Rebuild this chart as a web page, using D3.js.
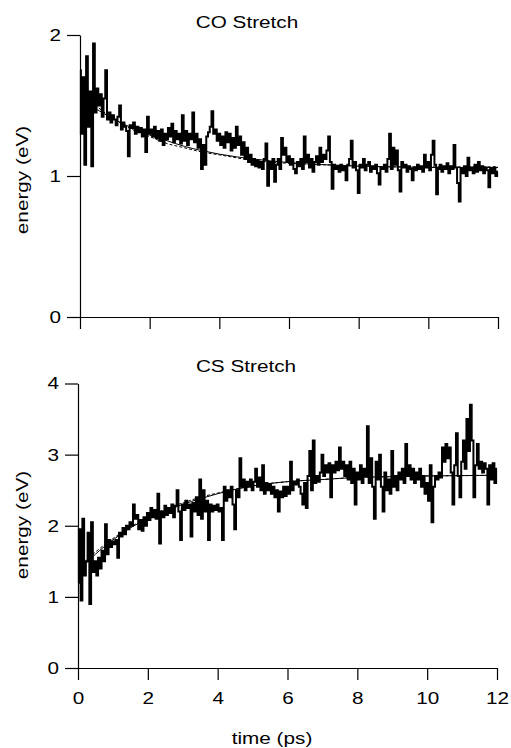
<!DOCTYPE html>
<html>
<head>
<meta charset="utf-8">
<script src="https://cdn.jsdelivr.net/npm/d3@7"></script>
<style>
  body { margin: 0; background: #fff; }
  svg text { font-family: "Liberation Sans", Arial, Helvetica, sans-serif; fill: #000; }
</style>
</head>
<body>
<script>
// sampling step of the trajectories (ps)
const step = 0.05;

// CO stretch energy (eV), one value every 0.05 ps from 0 to 12 ps
const coEnergy = [
  1.75,1.30,1.70,1.08,1.85,1.35,1.60,1.07,1.94,1.45,1.62,1.50,1.58,1.42,1.55,1.75,1.40,1.45,1.38,1.43,
  1.40,1.36,1.42,1.50,1.33,1.38,1.35,1.32,1.14,1.36,1.34,1.38,1.30,1.35,1.31,1.34,1.28,1.33,1.17,1.42,
  1.30,1.33,1.28,1.35,1.27,1.32,1.25,1.33,1.22,1.30,1.26,1.34,1.28,1.37,1.24,1.32,1.26,1.30,1.23,1.43,
  1.25,1.32,1.22,1.30,1.26,1.45,1.24,1.30,1.20,1.26,1.05,1.22,1.08,1.28,1.31,1.35,1.46,1.30,1.33,1.25,
  1.30,1.22,1.28,1.20,1.31,1.24,1.30,1.18,1.27,1.20,1.35,1.22,1.28,1.15,1.24,1.12,1.20,1.10,1.15,1.08,
  1.12,1.07,1.11,1.06,1.10,1.05,1.12,1.23,0.93,1.10,1.05,1.12,0.96,1.08,1.12,1.05,1.27,1.15,1.20,1.10,
  1.14,1.08,1.12,1.05,1.02,1.10,1.07,1.12,1.05,1.28,1.10,1.15,1.06,1.12,1.03,1.10,1.14,1.08,1.20,1.10,
  1.15,1.12,1.18,1.28,1.10,0.91,1.08,1.05,1.07,1.03,1.08,1.04,1.07,0.97,1.08,1.12,1.25,1.06,1.10,1.04,
  0.88,1.08,1.06,1.12,1.04,1.08,1.10,1.03,1.07,1.05,1.08,1.02,0.94,1.06,1.05,1.08,1.03,1.12,1.30,1.05,
  1.20,1.08,1.18,1.04,0.89,1.10,1.06,1.08,1.03,1.07,1.05,0.97,1.06,1.04,1.08,1.05,1.07,1.03,1.15,1.06,
  1.10,1.04,1.15,1.25,1.08,0.87,1.05,1.08,1.03,1.07,1.05,1.09,1.02,1.07,1.05,1.22,1.06,0.95,0.82,1.05,
  1.02,1.07,1.00,1.13,1.04,1.06,1.02,1.08,1.03,1.10,1.04,1.07,1.02,1.06,1.04,0.92,1.05,1.02,1.06,1.00,
  1.03
];

// CS stretch energy (eV), same sampling
const csEnergy = [
  1.20,1.95,0.95,2.10,1.30,1.50,1.90,0.90,2.05,1.35,1.50,1.30,1.55,1.40,1.65,1.50,2.02,1.60,1.80,1.70,
  1.78,1.74,1.80,1.55,1.90,1.85,1.97,1.88,2.00,1.95,2.05,2.00,2.30,2.10,2.15,1.95,2.08,1.93,2.12,2.00,
  2.18,2.08,2.25,2.12,2.22,2.10,2.45,1.75,2.20,2.12,2.28,2.15,2.25,2.18,2.30,2.12,2.28,2.50,2.20,1.80,
  2.30,2.22,2.35,2.25,2.30,1.85,2.32,2.20,2.40,2.15,2.65,2.10,2.50,2.20,2.35,1.80,2.30,2.20,2.28,2.22,
  2.30,2.20,2.25,1.80,2.55,2.35,2.50,2.40,2.55,2.30,1.95,2.50,2.40,2.95,2.55,2.65,2.50,2.62,2.55,2.65,
  2.50,2.62,2.80,2.55,2.68,2.50,2.85,2.45,2.60,2.50,2.58,2.45,2.55,2.40,2.50,2.20,2.48,2.40,2.55,2.42,
  2.55,2.45,2.90,2.50,2.62,2.58,2.65,2.55,2.45,2.30,2.60,2.25,2.70,3.05,2.50,3.20,2.60,2.70,2.62,2.75,
  3.00,2.70,2.85,2.75,2.88,2.40,2.85,2.75,2.90,2.78,3.10,2.80,2.90,2.70,2.85,2.65,2.90,2.60,2.80,2.30,
  2.75,2.65,2.85,2.60,2.80,2.70,3.40,2.60,2.95,2.55,2.10,2.90,2.65,3.00,2.55,2.20,2.75,2.50,2.65,2.45,
  3.05,2.55,2.70,2.50,2.75,2.65,2.80,2.60,3.15,2.70,2.85,2.65,2.80,2.60,2.75,2.65,2.80,2.55,2.70,2.45,
  2.60,2.35,2.85,2.05,2.55,2.70,2.65,2.75,2.68,3.10,2.90,3.15,2.95,3.10,2.75,2.30,2.85,3.30,2.70,2.40,
  2.90,3.20,2.80,3.50,3.05,3.70,3.20,2.40,2.85,3.15,2.80,2.90,2.75,2.88,2.80,2.30,2.85,2.65,2.88,2.60,
  2.80
];

// fitted curves
const fitTimes = [0, 0.5, 1, 1.5, 2, 2.5, 3, 3.5, 4, 5, 6, 7, 8, 9, 10, 11, 12];
const coFitSolid  = [1.55, 1.47, 1.40, 1.34, 1.29, 1.25, 1.21, 1.18, 1.155, 1.12, 1.095, 1.08, 1.07, 1.065, 1.06, 1.06, 1.06];
const coFitDashed = [1.60, 1.49, 1.40, 1.33, 1.28, 1.23, 1.20, 1.17, 1.15, 1.11, 1.09, 1.08, 1.07, 1.065, 1.065, 1.065, 1.065];
const csFitSolid  = [1.35, 1.60, 1.80, 1.97, 2.10, 2.20, 2.30, 2.38, 2.45, 2.56, 2.62, 2.65, 2.68, 2.69, 2.70, 2.705, 2.71];
const csFitDashed = [1.40, 1.63, 1.82, 1.98, 2.12, 2.23, 2.32, 2.40, 2.46, 2.56, 2.62, 2.65, 2.68, 2.69, 2.70, 2.705, 2.71];

const xTicks = [0, 2, 4, 6, 8, 10, 12];
const coYTicks = [0, 1, 2];
const csYTicks = [0, 1, 2, 3, 4];

const width = 511, height = 748;
const stretch = 1.22; // glyphs in the figure are wider than the installed fonts

const svg = d3.select("body").append("svg")
    .attr("width", width)
    .attr("height", height);

function drawPanel(opt) {
    const X = d3.scaleLinear().domain([0, 12]).range([opt.left, opt.right]);
    const Y = d3.scaleLinear().domain(opt.yDomain).range([opt.bottom, opt.top]);
    const g = svg.append("g");

    // fits
    const fitLine = d3.line().curve(d3.curveMonotoneX).x(d => X(d.t)).y(d => Y(d.e));
    g.append("path")
        .datum(fitTimes.map((t, i) => ({ t: t, e: opt.fitDashed[i] })))
        .attr("fill", "none").attr("stroke", "#000").attr("stroke-width", 1)
        .attr("stroke-dasharray", "3,2")
        .attr("d", fitLine);
    g.append("path")
        .datum(fitTimes.map((t, i) => ({ t: t, e: opt.fitSolid[i] })))
        .attr("fill", "none").attr("stroke", "#000").attr("stroke-width", 1)
        .attr("d", fitLine);

    // trace, drawn as steps like the original
    const trace = opt.values.map((v, i) => ({ t: i * step, e: v }));
    g.append("path")
        .datum(trace)
        .attr("fill", "none")
        .attr("stroke", "#000")
        .attr("stroke-width", 2)
        .attr("d", d3.line().curve(d3.curveStep).x(d => X(d.t)).y(d => Y(d.e)));

    // axes
    const xaxis = g.append("g")
        .attr("transform", `translate(0, ${opt.bottom})`)
        .call(d3.axisBottom(X).tickValues(xTicks).tickSize(12).tickSizeOuter(0).tickPadding(12)
              .tickFormat(opt.xLabels ? d3.format("d") : ""));
    const yaxis = g.append("g")
        .attr("transform", `translate(${opt.left}, 0)`)
        .call(d3.axisLeft(Y).tickValues(opt.yTicks).tickSize(13).tickSizeOuter(0).tickPadding(6)
              .tickFormat(d3.format("d")));

    [xaxis, yaxis].forEach(a => {
        a.selectAll("path, line").attr("stroke", "#000").attr("stroke-width", 1.2);
        a.selectAll("text")
            .style("font-size", "17px")
            .attr("font-family", null)
            .attr("transform", `scale(${stretch},1)`);
    });
    yaxis.selectAll("text").attr("x", -19 / stretch);

    // title
    svg.append("text")
        .attr("text-anchor", "middle")
        .attr("transform", `translate(${opt.titleX}, ${opt.titleY}) scale(${stretch},1)`)
        .style("font-size", "17px")
        .text(opt.title);

    // y label
    svg.append("text")
        .attr("text-anchor", "middle")
        .attr("transform", `translate(28, ${opt.labelY}) rotate(-90) scale(${stretch},1)`)
        .style("font-size", "17px")
        .text("energy (eV)");
}

drawPanel({
    title: "CO Stretch", titleX: 247, titleY: 28,
    values: coEnergy, fitSolid: coFitSolid, fitDashed: coFitDashed,
    yDomain: [0, 2], yTicks: coYTicks,
    left: 80, right: 498, top: 35, bottom: 317,
    labelY: 180, xLabels: false
});

drawPanel({
    title: "CS Stretch", titleX: 246, titleY: 372,
    values: csEnergy, fitSolid: csFitSolid, fitDashed: csFitDashed,
    yDomain: [0, 4], yTicks: csYTicks,
    left: 78, right: 497, top: 383.5, bottom: 668,
    labelY: 525, xLabels: true
});

svg.append("text")
    .attr("text-anchor", "middle")
    .attr("transform", `translate(272, 744) scale(${stretch},1)`)
    .style("font-size", "17px")
    .text("time (ps)");
</script>
</body>
</html>
